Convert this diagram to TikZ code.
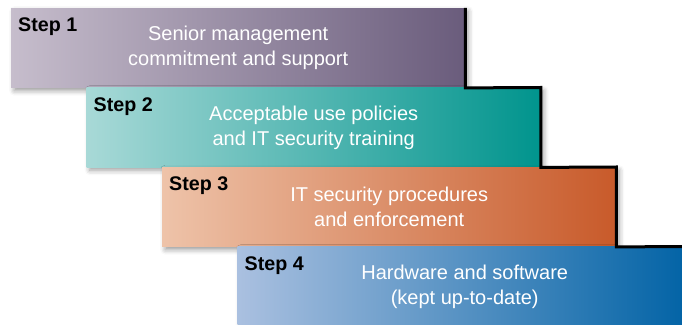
\documentclass[tikz,border=0pt]{standalone}
\usepackage{fontspec}
\setmainfont{Liberation Sans}
\usetikzlibrary{shadows.blur}
\definecolor{oneL}{HTML}{C6BDCC}
\definecolor{oneR}{HTML}{6A5C7C}
\definecolor{twoL}{HTML}{A8D9D7}
\definecolor{twoR}{HTML}{00948D}
\definecolor{threeL}{HTML}{EEC3A9}
\definecolor{threeR}{HTML}{C85A2A}
\definecolor{fourL}{HTML}{AAC0E0}
\definecolor{fourR}{HTML}{0062A5}

\begin{document}
\begin{tikzpicture}[x=1pt,y=1pt,
	stepbox/.style={minimum width=454pt,minimum height=79.5pt,inner sep=0pt,anchor=north west,
		align=center,text=white,font=\fontsize{20}{25}\selectfont,
		blur shadow={shadow xshift=3pt,shadow yshift=-3pt,shadow blur radius=5pt,shadow opacity=40}},
	steplabel/.style={anchor=north west,inner sep=0pt,font=\bfseries\fontsize{19.7}{24}\selectfont}]
		\useasboundingbox (0,0) rectangle (682,324);
		\clip (0,0) rectangle (682,324);
		\foreach \i/\lc/\rc/\txt in {1/oneL/oneR/{Senior management\\commitment and support},
			2/twoL/twoR/{Acceptable use policies\\and IT security training},
			3/threeL/threeR/{IT security procedures\\and enforcement},
			4/fourL/fourR/{Hardware and software\\(kept up-to-date)}}{
			\node[stepbox,left color=\lc,right color=\rc] (s\i) at ({11+75.5*(\i-1)},{316-79.5*(\i-1)}) {\txt};
			\node[steplabel] (l\i) at ([shift={(7pt,-10pt)}]s\i.north west) {Step \i};
		}
		% black edge of the stairs
		\draw[line width=3pt] (s1.north east) -- (s1.south east) -- (s2.north east) -- (s2.south east)
			-- (s3.north east) -- (s3.south east) -- (s4.north east);
	\end{tikzpicture}
\end{document}
